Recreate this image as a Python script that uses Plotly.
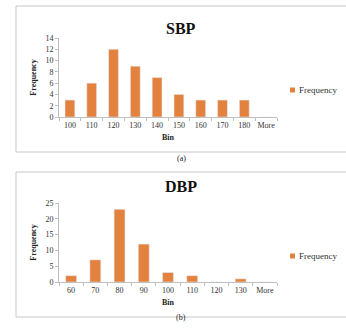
import plotly.graph_objects as go

sbp_bins = ["100", "110", "120", "130", "140", "150", "160", "170", "180", "More"]
sbp_freq = [3, 6, 12, 9, 7, 4, 3, 3, 3, 0]
sbp_yticks = [0, 2, 4, 6, 8, 10, 12, 14]

dbp_bins = ["60", "70", "80", "90", "100", "110", "120", "130", "More"]
dbp_freq = [2, 7, 23, 12, 3, 2, 0, 1, 0]
dbp_yticks = [0, 5, 10, 15, 20, 25]

series_name = "Frequency"

BAR = "#E3823F"
AX = "#BFBFBF"
TXT = "#333333"
FONT = "Liberation Serif, Times New Roman, serif"
W, H = 346, 329

def py(p):
    return 1 - p / H

fig = go.Figure()
fig.add_trace(go.Bar(x=sbp_bins, y=sbp_freq, name=series_name, marker_color=BAR,
                     xaxis="x", yaxis="y", showlegend=False))
fig.add_trace(go.Bar(x=dbp_bins, y=dbp_freq, name=series_name, marker_color=BAR,
                     xaxis="x2", yaxis="y2", showlegend=False))

xcommon = dict(type="category", showline=True, linecolor=AX, linewidth=1, tickangle=0,
               ticks="outside", tickson="boundaries", ticklen=3, tickcolor=AX, automargin=False,
               showgrid=False, zeroline=False, tickfont=dict(family=FONT, size=8, color=TXT),
               title_font=dict(family=FONT, size=8, color="#222"), title_standoff=5)
ycommon = dict(showline=True, linecolor=AX, linewidth=1, ticks="outside", ticklen=3,
               tickcolor=AX, showgrid=False, zeroline=False, automargin=False,
               tickfont=dict(family=FONT, size=8, color=TXT),
               title_font=dict(family=FONT, size=8, color="#222"), title_standoff=7)

def legend_key(cy):
    shape = dict(type="rect", xref="paper", yref="paper", x0=290 / W, x1=295 / W,
                 y0=py(cy + 2.5), y1=py(cy - 2.5), fillcolor=BAR, line=dict(width=0))
    ann = dict(text=series_name, x=297 / W, y=py(cy), xref="paper", yref="paper",
               xanchor="left", yanchor="middle", showarrow=False,
               font=dict(family=FONT, size=9, color=TXT))
    return shape, ann

s1, a1 = legend_key(90)
s2, a2 = legend_key(256)

fig.update_layout(
    width=W, height=H, margin=dict(l=0, r=0, t=0, b=0, autoexpand=False),
    paper_bgcolor="white", plot_bgcolor="white", showlegend=False,
    bargap=0.55, font=dict(family=FONT, color="#222"),
    xaxis=dict(domain=[59 / W, 277 / W], anchor="y", title_text="<b>Bin</b>", **xcommon),
    yaxis=dict(domain=[py(117), py(38)], anchor="x", range=[0, 14], tickvals=sbp_yticks,
               title_text="<b>Frequency</b>", **ycommon),
    xaxis2=dict(domain=[59 / W, 277 / W], anchor="y2", title_text="<b>Bin</b>", **xcommon),
    yaxis2=dict(domain=[py(282), py(203)], anchor="x2", range=[0, 25], tickvals=dbp_yticks,
                title_text="<b>Frequency</b>", **ycommon),
    shapes=[
        dict(type="rect", xref="paper", yref="paper", x0=16 / W, x1=1.01, y0=py(152), y1=py(6),
             line=dict(color="#C8C8C8", width=1)),
        dict(type="rect", xref="paper", yref="paper", x0=16 / W, x1=1.01, y0=py(317), y1=py(172),
             line=dict(color="#C8C8C8", width=1)),
        s1, s2,
    ],
    annotations=[
        dict(text="<b>SBP</b>", x=181 / W, y=py(18), xref="paper", yref="paper",
             showarrow=False, font=dict(family=FONT, size=16, color="#111")),
        dict(text="<b>DBP</b>", x=181 / W, y=py(186), xref="paper", yref="paper",
             showarrow=False, font=dict(family=FONT, size=16, color="#111")),
        dict(text="(a)", x=181 / W, y=py(158), xref="paper", yref="paper",
             showarrow=False, font=dict(family=FONT, size=8, color="#222")),
        dict(text="(b)", x=181 / W, y=py(324), xref="paper", yref="paper",
             showarrow=False, font=dict(family=FONT, size=8, color="#222")),
        a1, a2,
    ],
)

fig.write_html("out.html")
